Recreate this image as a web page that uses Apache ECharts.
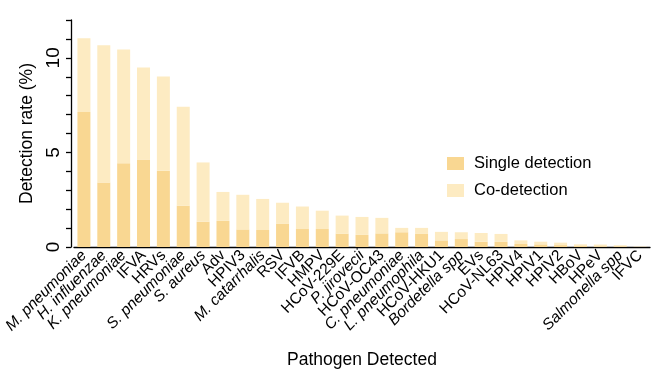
<!DOCTYPE html>
<html>
<head>
<meta charset="utf-8">
<script src="https://cdn.jsdelivr.net/npm/echarts@6/dist/echarts.min.js"></script>
<style>
  html, body { margin: 0; padding: 0; background: #fff; }
  #chart { width: 669px; height: 375px; }
</style>
</head>
<body>
<div id="chart"></div>
<script>
// pathogens, in the order of the bars
const pathogens = [
  'M. pneumoniae', 'H. influenzae', 'K. pneumoniae', 'IFVA', 'HRVs', 'S. pneumoniae',
  'S. aureus', 'Adv', 'HPIV3', 'M. catarrhalis', 'RSV', 'IFVB', 'HMPV', 'HCoV-229E',
  'P. jirovecii', 'HCoV-OC43', 'C. pneumoniae', 'L. pneumophila', 'HCoV-HKU1',
  'Bordetella spp', 'EVs', 'HCoV-NL63', 'HPIV4', 'HPIV1', 'HPIV2', 'HBoV', 'HPeV',
  'Salmonella spp', 'IFVC'
];
// names drawn in italics
const italicNames = [
  'M. pneumoniae', 'H. influenzae', 'K. pneumoniae', 'S. pneumoniae', 'S. aureus',
  'M. catarrhalis', 'P. jirovecii', 'C. pneumoniae', 'L. pneumophila',
  'Bordetella spp', 'Salmonella spp'
];
// detection rate (%)
const singleRate = [
  7.14, 3.41, 4.43, 4.63, 4.03, 2.19, 1.34, 1.38, 0.93, 0.90, 1.22, 0.95, 0.95, 0.71,
  0.64, 0.72, 0.78, 0.69, 0.35, 0.42, 0.28, 0.27, 0.16, 0.14, 0.10, 0.05, 0.04, 0.04, 0.01
];
const totalRate = [
  11.04, 10.67, 10.44, 9.49, 9.01, 7.42, 4.47, 2.91, 2.76, 2.54, 2.34, 2.14, 1.92, 1.66,
  1.59, 1.54, 1.01, 1.01, 0.80, 0.78, 0.74, 0.69, 0.35, 0.28, 0.23, 0.14, 0.13, 0.09, 0.02
];
const coRate = totalRate.map((t, i) => +(t - singleRate[i]).toFixed(2));

const yLabels = [0, 5, 10];

const FONT = '"Liberation Sans", Arial, sans-serif';
const SINGLE_COLOR = '#F9D792';
const CO_COLOR = '#FDEBC2';

const chart = echarts.init(document.getElementById('chart'));

const option = {
  animation: false,
  backgroundColor: '#fff',
  textStyle: { fontFamily: FONT, color: '#000' },
  grid: { left: 74, top: 20, width: 576, height: 227, containLabel: false },
  legend: {
    orient: 'vertical',
    left: 447,
    top: 155,
    padding: 0,
    icon: 'rect',
    itemWidth: 17,
    itemHeight: 13,
    itemGap: 10,
    textStyle: { fontFamily: FONT, fontSize: 16.5, color: '#000', padding: [0, 0, 0, 5] },
    data: ['Single detection', 'Co-detection']
  },
  xAxis: {
    type: 'category',
    data: pathogens,
    name: 'Pathogen Detected',
    nameLocation: 'middle',
    nameGap: 104,
    nameTextStyle: { fontFamily: FONT, fontSize: 17.5, color: '#000' },
    axisLine: { lineStyle: { color: '#000', width: 1.3 } },
    axisTick: { alignWithLabel: true, length: 6, lineStyle: { color: '#000', width: 1.3 } },
    axisLabel: {
      rotate: 45,
      interval: 0,
      margin: 6,
      fontFamily: FONT,
      fontSize: 15.5,
      color: '#000',
      formatter: v => italicNames.includes(v) ? '{i|' + v + '}' : v,
      rich: { i: { fontFamily: FONT, fontSize: 15.5, fontStyle: 'italic', color: '#000' } }
    }
  },
  yAxis: {
    type: 'value',
    min: 0,
    max: 12,
    interval: 1,
    offset: 3,
    name: 'Detection rate (%)',
    nameLocation: 'middle',
    nameGap: 32,
    nameTextStyle: { fontFamily: FONT, fontSize: 17.5, color: '#000' },
    splitLine: { show: false },
    axisLine: { show: true, lineStyle: { color: '#000', width: 1.3 } },
    axisTick: { show: true, length: 5, lineStyle: { color: '#000', width: 1.3 } },
    axisLabel: {
      rotate: 90,
      margin: 8,
      fontFamily: FONT,
      fontSize: 19,
      color: '#000',
      formatter: v => yLabels.includes(v) ? String(v) : ''
    }
  },
  series: [
    {
      name: 'Single detection',
      type: 'bar',
      stack: 'rate',
      barWidth: 13,
      itemStyle: { color: SINGLE_COLOR },
      data: singleRate
    },
    {
      name: 'Co-detection',
      type: 'bar',
      stack: 'rate',
      barWidth: 13,
      itemStyle: { color: CO_COLOR },
      data: coRate
    }
  ]
};

chart.setOption(option);
</script>
</body>
</html>
